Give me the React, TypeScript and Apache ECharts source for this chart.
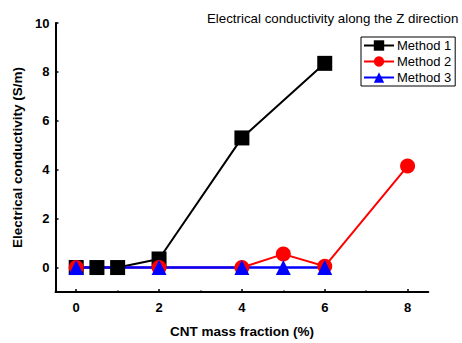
import React, { useEffect, useRef } from "react";
import * as echarts from "echarts";

const titleText = "Electrical conductivity along the Z direction";
const xName = "CNT mass fraction (%)";
const yName = "Electrical conductivity (S/m)";
const xMajor = [0, 2, 4, 6, 8];
const xMinor = [1, 3, 5, 7];
const yMajor = [0, 2, 4, 6, 8, 10];
const yMinor = [-1, 1, 3, 5, 7, 9];

const m1X = [0, 0.5, 1, 2, 4, 6];
const m1Y = [0, 0, 0, 0.35, 5.3, 8.35];
const m2X = [0, 2, 4, 5, 6, 8];
const m2Y = [0, 0, 0, 0.55, 0.05, 4.15];
const m3X = [0, 2, 4, 5, 6];
const m3Y = [0, 0, 0, 0, 0];

const FONT = "Liberation Sans";

export default function App() {
  const ref = useRef<HTMLDivElement>(null);
  useEffect(() => {
    if (!ref.current) return;
    const chart = echarts.init(ref.current, null, { renderer: "svg" });
    const zip = (xs: number[], ys: number[]) => xs.map((x, i) => [x, ys[i]]);
    const axisCommon = {
      type: "value",
      splitLine: { show: false },
    };
    chart.setOption({
      animation: false,
      backgroundColor: "#fff",
      title: {
        text: titleText,
        left: 207,
        top: 12,
        textStyle: { fontFamily: FONT, fontSize: 13.3, fontWeight: "normal", color: "#000" },
        padding: 0,
      },
      legend: {
        orient: "vertical",
        left: 361,
        top: 37,
        itemWidth: 30,
        itemHeight: 13,
        itemGap: 3,
        padding: [2, 4, 2, 2],
        borderColor: "#000",
        borderWidth: 1,
        textStyle: { fontFamily: FONT, fontSize: 13, color: "#000", padding: [0, 0, 0, -2] },
        data: ["Method 1", "Method 2", "Method 3"],
      },
      grid: { left: 55.5, right: 33.7, top: 23, bottom: 45, containLabel: false },
      xAxis: [
        {
          ...axisCommon,
          min: -0.5,
          max: 8.5,
          name: xName,
          nameLocation: "middle",
          nameGap: 32,
          nameTextStyle: { fontFamily: FONT, fontSize: 13.5, fontWeight: "bold", color: "#000" },
          axisLine: { show: true, onZero: false, lineStyle: { color: "#000", width: 2 } },
          axisTick: { show: true, inside: true, length: 3, customValues: xMajor, lineStyle: { color: "#000", width: 1.5 } },
          axisLabel: { customValues: xMajor, fontFamily: FONT, fontSize: 13, fontWeight: "bold", color: "#000", margin: 9 },
        },
        {
          ...axisCommon,
          min: -0.5,
          max: 8.5,
          position: "bottom",
          axisLine: { show: false, onZero: false },
          axisTick: { show: true, inside: true, length: 1.5, customValues: xMinor, lineStyle: { color: "#000", width: 1.5 } },
          axisLabel: { show: false },
        },
      ],
      yAxis: [
        {
          ...axisCommon,
          min: -1,
          max: 10,
          name: yName,
          nameLocation: "middle",
          nameGap: 30,
          nameTextStyle: { fontFamily: FONT, fontSize: 13.5, fontWeight: "bold", color: "#000" },
          axisLine: { show: true, onZero: false, lineStyle: { color: "#000", width: 2 } },
          axisTick: { show: true, inside: true, length: 3, customValues: yMajor, lineStyle: { color: "#000", width: 1.5 } },
          axisLabel: { customValues: yMajor, fontFamily: FONT, fontSize: 13, fontWeight: "bold", color: "#000", margin: 6 },
        },
        {
          ...axisCommon,
          min: -1,
          max: 10,
          position: "left",
          axisLine: { show: false, onZero: false },
          axisTick: { show: true, inside: true, length: 1.5, customValues: yMinor, lineStyle: { color: "#000", width: 1.5 } },
          axisLabel: { show: false },
        },
      ],
      series: [
        {
          name: "Method 1",
          type: "line",
          data: zip(m1X, m1Y),
          symbol: "rect",
          symbolSize: 15,
          lineStyle: { color: "#000", width: 2 },
          itemStyle: { color: "#000" },
        },
        {
          name: "Method 2",
          type: "line",
          data: zip(m2X, m2Y),
          symbol: "circle",
          symbolSize: 15,
          lineStyle: { color: "#ff0000", width: 2 },
          itemStyle: { color: "#ff0000" },
        },
        {
          name: "Method 3",
          type: "line",
          data: zip(m3X, m3Y),
          symbol: "triangle",
          symbolSize: 15,
          lineStyle: { color: "#0000ff", width: 2.5 },
          itemStyle: { color: "#0000ff" },
        },
      ],
    });
    return () => chart.dispose();
  }, []);
  return <div ref={ref} style={{ position: "fixed", left: 0, top: 0, width: 462, height: 343 }} />;
}
